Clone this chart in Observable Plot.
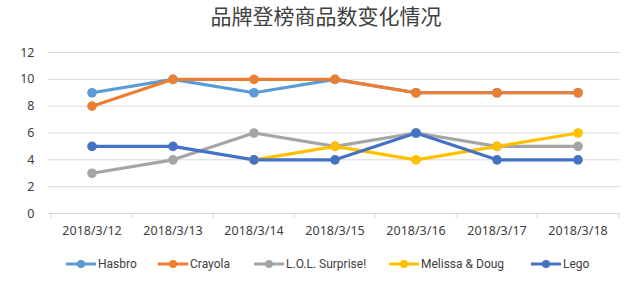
<!DOCTYPE html>
<html><head><meta charset="utf-8">
<script src="https://cdn.jsdelivr.net/npm/d3@7"></script>
<script src="https://cdn.jsdelivr.net/npm/@observablehq/plot@0.6"></script>
<style>
body{margin:0;background:#fff;font-family:"Noto Sans","Noto Sans CJK SC",sans-serif;}
#title{height:35px;line-height:31px;text-align:center;font-size:21px;color:#404040;font-family:"Noto Sans CJK SC",sans-serif;padding-left:12px;}
#legend{position:relative;height:36px;font-size:12px;color:#404040;font-family:Roboto,sans-serif;}
.item{position:absolute;top:12px;display:flex;align-items:center;gap:2px;white-space:nowrap;}
</style></head><body>
<div id="title">品牌登榜商品数变化情况</div>
<div id="chart"></div>
<div id="legend"></div>
<script>
const dates = ["2018/3/12","2018/3/13","2018/3/14","2018/3/15","2018/3/16","2018/3/17","2018/3/18"];
const series = ["Hasbro","Crayola","L.O.L. Surprise!","Melissa & Doug","Lego"];
const colors = ["#5B9BD5","#ED7D31","#A5A5A5","#FFC000","#4472C4"];
const hasbro = [9,10,9,10,9,9,9];
const crayola = [8,10,10,10,9,9,9];
const lol = [3,4,6,5,6,5,5];
const melissa = [null,null,4,5,4,5,6];
const lego = [5,5,4,4,6,4,4];
const yTicks = [0,2,4,6,8,10,12];

const values = [hasbro,crayola,lol,melissa,lego];
const data = [];
series.forEach((s,i)=>values[i].forEach((v,j)=>{ if(v!=null) data.push({series:s,date:dates[j],value:v}); }));

const W=640, ML=48, MR=20;
const half=(W-ML-MR)/dates.length/2;

const chart = Plot.plot({
  width:W, height:210,
  marginTop:17, marginBottom:32, marginLeft:ML, marginRight:MR,
  style:{fontFamily:"Noto Sans, sans-serif", fontSize:"12.5px", color:"#404040"},
  x:{type:"band", domain:dates, padding:0, label:null, tickSize:0, tickPadding:13},
  y:{domain:[0,12], ticks:yTicks, label:null, tickSize:0, tickPadding:14},
  color:{domain:series, range:colors},
  marks:[
    Plot.gridY(yTicks,{stroke:"#d9d9d9", strokeOpacity:1}),
    Plot.ruleX(dates,{x:d=>d, y1:0, y2:-0.38, stroke:"#d9d9d9", dx:-half}),
    Plot.ruleX(dates.slice(-1),{x:d=>d, y1:0, y2:-0.38, stroke:"#d9d9d9", dx:half}),
    Plot.lineY(data,{x:"date", y:"value", z:"series", stroke:"series", strokeWidth:3.2}),
    Plot.dot(data,{x:"date", y:"value", fill:"series", r:4.8})
  ]
});
document.getElementById("chart").appendChild(chart);

const lefts=[66,158,254,389,531];
const lg = document.getElementById("legend");
series.forEach((s,i)=>{
  const it=document.createElement("div"); it.className="item"; it.style.left=lefts[i]+"px";
  it.innerHTML=`<svg width="30" height="10"><line x1="0" y1="5" x2="30" y2="5" stroke="${colors[i]}" stroke-width="3"/><circle cx="15" cy="5" r="4" fill="${colors[i]}"/></svg><span>${s}</span>`;
  lg.appendChild(it);
});
</script>
</body></html>
